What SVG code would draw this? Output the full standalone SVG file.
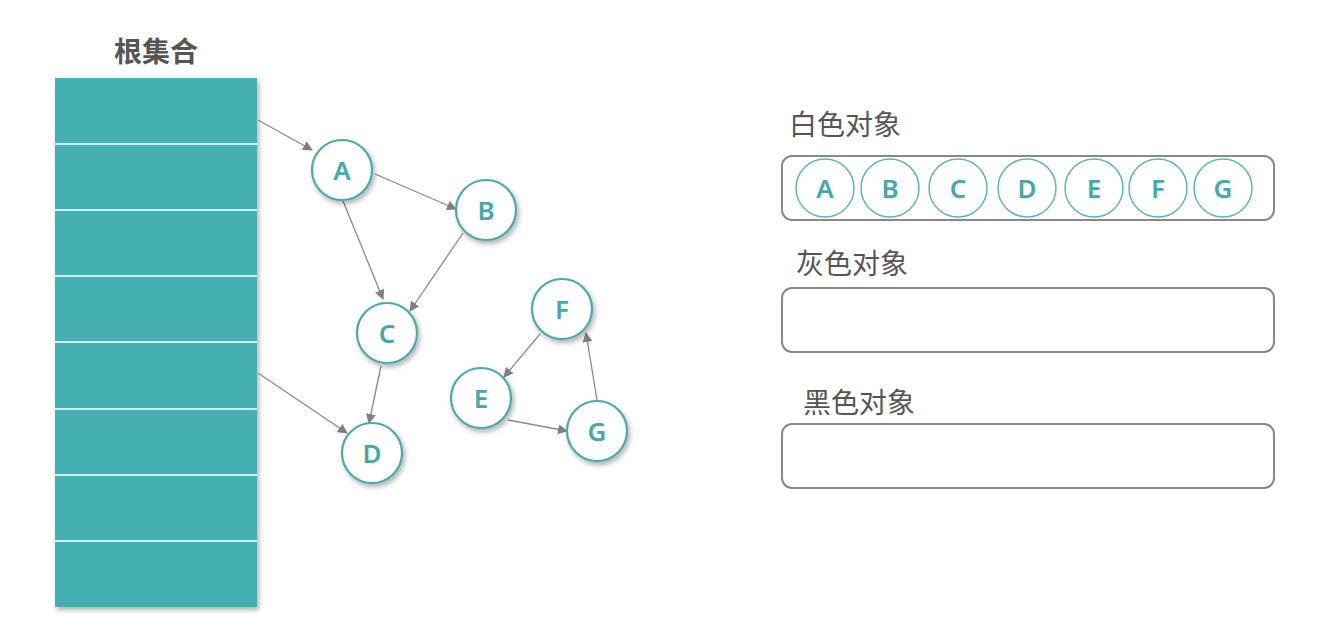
<svg xmlns="http://www.w3.org/2000/svg" width="1335" height="644" viewBox="0 0 1335 644">
<style>
.title{font-family:"Noto Sans CJK SC","Noto Sans",sans-serif;font-size:28px;fill:#555;}
.tb{font-weight:bold;}
.node circle{fill:#fff;stroke:#4aa9ab;stroke-width:2.2;}
.lbl{font-family:"Noto Sans","Open Sans",sans-serif;font-size:26px;font-weight:600;fill:#45a8aa;text-anchor:middle;dominant-baseline:central;}
.edge{stroke:#8a8a8a;stroke-width:1.3;fill:none;marker-end:url(#arr);}
.box{fill:#fff;stroke:#888;stroke-width:2;}
.mini circle{fill:#fff;stroke:#5fb5b6;stroke-width:1.5;}
.sep{stroke:#cdeeee;stroke-width:2;}
</style>
<defs>
<marker id="arr" viewBox="0 0 10 10" refX="9" refY="5" markerWidth="10" markerHeight="10" markerUnits="userSpaceOnUse" orient="auto">
<path d="M0,0 L10,5 L0,10 Z" fill="#808080"/>
</marker>
<filter id="sh" x="-30%" y="-30%" width="160%" height="160%">
<feDropShadow dx="2" dy="3" stdDeviation="2.5" flood-color="#000" flood-opacity="0.3"/>
</filter>
</defs>
<rect width="1335" height="644" fill="#fff"/>

<g id="root-set">
<text class="title tb" x="156" y="62" text-anchor="middle">根集合</text>
<rect x="55" y="78" width="202" height="529" fill="#45b0b1" filter="url(#sh)"/>
<line class="sep" x1="55" y1="144" x2="257" y2="144"/>
<line class="sep" x1="55" y1="210" x2="257" y2="210"/>
<line class="sep" x1="55" y1="276" x2="257" y2="276"/>
<line class="sep" x1="55" y1="342" x2="257" y2="342"/>
<line class="sep" x1="55" y1="409" x2="257" y2="409"/>
<line class="sep" x1="55" y1="475" x2="257" y2="475"/>
<line class="sep" x1="55" y1="541" x2="257" y2="541"/>
</g>

<g id="connectors">
<line class="edge" x1="258" y1="120" x2="312" y2="150"/>
<line class="edge" x1="258" y1="373" x2="347" y2="433"/>
<line class="edge" x1="375" y1="174" x2="456" y2="209"/>
<line class="edge" x1="343" y1="201" x2="383" y2="299"/>
<line class="edge" x1="463" y1="233" x2="410" y2="311"/>
<line class="edge" x1="381" y1="366" x2="369" y2="423"/>
<line class="edge" x1="540" y1="334" x2="504" y2="377"/>
<line class="edge" x1="508" y1="420" x2="567" y2="431"/>
<line class="edge" x1="597" y1="400" x2="586" y2="333"/>
</g>

<g id="node-A" class="node"><circle cx="342" cy="170" r="30" filter="url(#sh)"/><text class="lbl" x="342" y="170">A</text></g>
<g id="node-B" class="node"><circle cx="486" cy="210" r="30" filter="url(#sh)"/><text class="lbl" x="486" y="210">B</text></g>
<g id="node-C" class="node"><circle cx="387" cy="333" r="30" filter="url(#sh)"/><text class="lbl" x="387" y="333">C</text></g>
<g id="node-D" class="node"><circle cx="372" cy="453" r="30" filter="url(#sh)"/><text class="lbl" x="372" y="453">D</text></g>
<g id="node-E" class="node"><circle cx="481" cy="398" r="30" filter="url(#sh)"/><text class="lbl" x="481" y="398">E</text></g>
<g id="node-F" class="node"><circle cx="562" cy="309" r="30" filter="url(#sh)"/><text class="lbl" x="562" y="309">F</text></g>
<g id="node-G" class="node"><circle cx="597" cy="431" r="30" filter="url(#sh)"/><text class="lbl" x="597" y="431">G</text></g>

<g id="white-objects">
<text class="title" x="789" y="135">白色对象</text>
<rect class="box" x="782" y="156" width="492" height="64" rx="10"/>
<g class="mini">
<circle cx="825" cy="188" r="29"/><text class="lbl" x="825" y="188">A</text>
<circle cx="890" cy="188" r="29"/><text class="lbl" x="890" y="188">B</text>
<circle cx="958" cy="188" r="29"/><text class="lbl" x="958" y="188">C</text>
<circle cx="1027" cy="188" r="29"/><text class="lbl" x="1027" y="188">D</text>
<circle cx="1094" cy="188" r="29"/><text class="lbl" x="1094" y="188">E</text>
<circle cx="1158" cy="188" r="29"/><text class="lbl" x="1158" y="188">F</text>
<circle cx="1223" cy="188" r="29"/><text class="lbl" x="1223" y="188">G</text>
</g>
</g>

<g id="gray-objects">
<text class="title" x="796" y="274">灰色对象</text>
<rect class="box" x="782" y="288" width="492" height="64" rx="10"/>
</g>

<g id="black-objects">
<text class="title" x="803" y="413">黑色对象</text>
<rect class="box" x="782" y="424" width="492" height="64" rx="10"/>
</g>
</svg>
